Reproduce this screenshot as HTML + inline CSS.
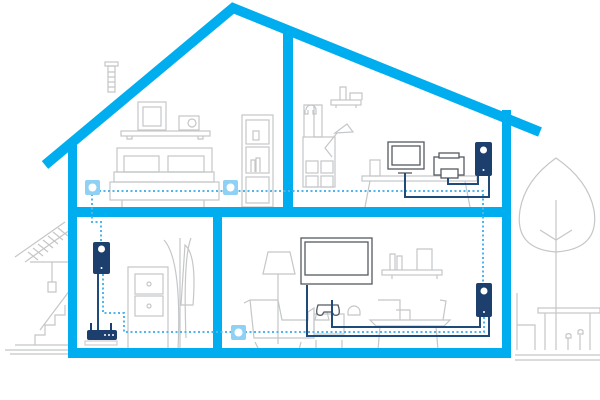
<!DOCTYPE html>
<html><head><style>html,body{margin:0;padding:0;background:#fff}svg{display:block}</style></head>
<body>
<svg width="600" height="400" viewBox="0 0 600 400" xmlns="http://www.w3.org/2000/svg">
<g fill="none" stroke="#c4c6c8" stroke-width="1.2">
 <!-- chimney -->
 <rect x="105" y="62" width="13" height="4"/><path d="M108 66h7v26h-7z M108 72h7M108 77h7M108 82h7M108 87h7"/>
 <!-- bedroom -->
 <rect x="138" y="102" width="28" height="28"/><rect x="143" y="107" width="18" height="19"/>
 <rect x="179" y="116" width="20" height="14"/><circle cx="192" cy="123" r="4"/>
 <rect x="121" y="131" width="89" height="5"/><path d="M127 136v3h5v-3M198 136v3h5v-3"/>
 <rect x="117" y="148" width="95" height="24"/><rect x="124" y="156" width="35" height="16"/><rect x="168" y="156" width="36" height="16"/>
 <rect x="114" y="172" width="100" height="10"/><rect x="110" y="182" width="109" height="18"/><path d="M122 200v7M204 200v7"/>
 <rect x="242" y="115" width="31" height="92"/><rect x="246" y="120" width="23" height="24"/><rect x="246" y="147" width="23" height="26"/><rect x="246" y="177" width="23" height="26"/>
 <rect x="253" y="131" width="6" height="9"/><path d="M251 172v-12h4v12M256 172v-14h4v14"/>
 <!-- study -->
 <rect x="331" y="100" width="30" height="5"/><path d="M340 100v-13h6v13M350 100v-7h12v7M336 105v3M356 105v3"/>
 <path d="M306 110a5 5 0 0 1 10 0M305 110v4h3v-4M313 110v4h3v-4"/>
 <rect x="303" y="137" width="32" height="50"/><rect x="306" y="161" width="12" height="12"/><rect x="321" y="161" width="12" height="12"/><rect x="306" y="176" width="12" height="11"/><rect x="321" y="176" width="12" height="11"/>
 <path d="M304 137v-32h10v32M314 105v32h8v-32h-8M332 157l-7-9 12-15M335 133l12-9 6 8z"/>
 <rect x="362" y="176" width="115" height="5"/><path d="M370 181l-5 26M465 181l5 26"/>
 <rect x="370" y="160" width="10" height="16"/>
 <!-- hallway -->
 <rect x="128" y="267" width="40" height="82"/><rect x="135" y="274" width="28" height="20"/><rect x="135" y="296" width="28" height="20"/><circle cx="149" cy="284" r="2"/><circle cx="149" cy="306" r="2"/>
 <path d="M164 240q18 20 14 110M180 238v112M191 238q-8 20-5 100M185 245q12 10 8 60h-12z"/>
 <!-- living -->
 <path d="M268 252h22l5 22h-32zM278 274v70M250 300h28l4 20h26v-8l6-4v30h-60z M244 303l6-3M259 350l-4-8M299 350l2-8"/>
 <rect x="382" y="270" width="60" height="5"/><path d="M390 270v-16h5v16M397 270v-14h5v14M417 270v-21h15v21M392 275v4M437 275v4"/>
 <path d="M370 320h80l-6 6h-68zM378 300h22v20M396 310h14v10M440 300l6 1-3 19M380 326l-2 24M436 326l2 24"/>
 <rect x="314" y="314" width="30" height="20"/><path d="M316 340v10M342 340v10"/><path d="M348 312a6 6 0 0 1 12 0v3h-12z"/>
 <path d="M317 312h10l2 8h-14z"/>
 <!-- outside left -->
 <path d="M15 257l50-35M25 262l45-32M28 252l10 8M33 248l10 8M38 244l10 8M43 240l10 8M48 236l10 8M53 232l10 8M58 228l10 8M30 262h40M52 262v20M48 282h8v10h-8z"/>
 <path d="M5 350h65M15 345h55M10 354h60M35 345v-10h10v-10h10v-10h10v-10M40 330l30-40"/>
 <!-- outside right -->
 <path d="M515 355h85M515 360h85"/>
 <path d="M556 350v-150M556 252q-42 -3 -36 -42q5 -30 36 -52q32 22 38 52q6 39 -38 42z"/>
 <path d="M540 230l16 10 16-10"/>
 <rect x="538" y="308" width="62" height="5"/><path d="M545 313v37M590 313v37M517 293v57M517 325h18v25"/>
 <path d="M568 350v-12M566 335a3 3 0 0 1 5 0v3h-5zM580 350v-15M578 331a3 3 0 0 1 5 0v3h-5z"/>
</g>
<g fill="#fff" stroke="#555b61" stroke-width="1.3">
 <rect x="388" y="142" width="36" height="27"/><rect x="392" y="146" width="28" height="19" fill="none"/><path d="M398 173h14" />
 <rect x="434" y="157" width="30" height="18"/><rect x="439" y="153" width="20" height="5"/><rect x="441" y="169" width="17" height="9"/>
 <rect x="301" y="238" width="71" height="46"/><rect x="305" y="242" width="63" height="33" fill="none"/>
 <path d="M318 305q-4 12 4 10l2-3h8l2 3q8 2 4-10z"/>
</g>
<g stroke="#00aeef" stroke-width="10" fill="none">
 <path d="M45 165L233 8L540 132"/>
</g>
<g fill="#00aeef">
 <rect x="68" y="145" width="9" height="213"/>
 <rect x="502" y="110" width="9" height="248"/>
 <rect x="283" y="28" width="10" height="180"/>
 <rect x="68" y="207" width="443" height="10"/>
 <rect x="213" y="217" width="9" height="135"/>
 <rect x="68" y="348" width="443" height="10"/>
</g>
<g stroke="#4fb5ec" stroke-width="2" stroke-dasharray="2 2.5" fill="none">
 <path d="M99 191H483V283"/>
 <path d="M92 194V222H101V242"/>
 <path d="M103 274V313H124V332H232"/>
 <path d="M245 332H484V317"/>
</g>
<g stroke="#1e4b7a" stroke-width="2" fill="none">
 <path d="M405 173V197H489V176"/><path d="M448 178V184H478V176"/>
 <path d="M307 285V336H489V317"/><path d="M332 300V327H480V317"/>
 <path d="M98 274V330"/>
</g>
<g fill="#8ed1f5"><rect x="85" y="180" width="15" height="15" rx="2"/><rect x="223" y="180" width="15" height="15" rx="2"/><rect x="231" y="325" width="15" height="15" rx="2"/></g>
<g fill="#fff"><circle cx="92.5" cy="187.5" r="4"/><circle cx="230.5" cy="187.5" r="4"/><circle cx="238.5" cy="332.5" r="4"/></g>
<g fill="#1d3f6e">
 <rect x="93" y="242" width="17" height="32" rx="2"/><rect x="475" y="142" width="17" height="34" rx="2"/><rect x="476" y="283" width="16" height="34" rx="2"/>
 <rect x="87" y="330" width="30" height="10" rx="2"/><path d="M90 330v-7h2v7M110 330v-7h2v7"/>
</g>
<g fill="#fff"><circle cx="101.5" cy="249" r="3.5"/><circle cx="483.5" cy="150" r="3.5"/><circle cx="484" cy="291" r="3.5"/><circle cx="101.5" cy="268" r="1"/><circle cx="483.5" cy="170" r="1"/><circle cx="484" cy="312" r="1"/><circle cx="105" cy="335" r="1"/><circle cx="109" cy="335" r="1"/><circle cx="113" cy="335" r="1"/></g>
<rect x="85" y="341" width="32" height="4" fill="none" stroke="#c4c6c8"/>
</svg>
</body></html>
